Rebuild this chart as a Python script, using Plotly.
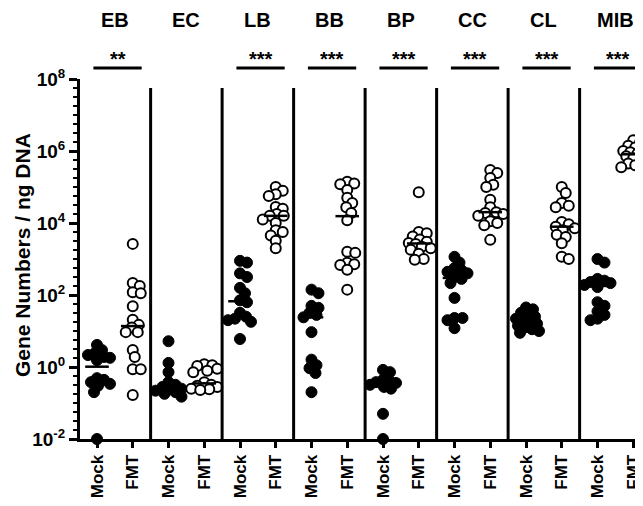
import numpy as np
import plotly.graph_objects as go

groups = ["EB", "EC", "LB", "BB", "BP", "CC", "CL", "MIB"]
conditions = ["Mock", "FMT"]
signif = ["**", "", "***", "***", "***", "***", "***", "***"]

mock_EB = [4.1, 2.95, 2.45, 2.15, 1.9, 1.8, 1.55, 0.49, 0.44, 0.38, 0.34, 0.30, 0.20, 0.01]
fmt_EB = [2630, 214, 178, 120, 112, 49, 20.4, 14.8, 12.6, 9.3, 9.3, 2.95, 1.9, 0.87, 0.87, 0.166]
mock_EC = [5.2, 1.3, 0.72, 0.38, 0.32, 0.28, 0.25, 0.24, 0.22, 0.20, 0.18, 0.15]
fmt_EC = [1.2, 1.12, 1.07, 0.89, 0.79, 0.72, 0.38, 0.32, 0.30, 0.28, 0.26, 0.25, 0.24, 0.23]
mock_LB = [890, 795, 400, 316, 158, 112, 71, 63, 32, 25, 22, 20, 18, 6.0]
fmt_LB = [100000, 79000, 63000, 56000, 28000, 25000, 17800, 15800, 15800, 12600, 10000, 6300, 5600, 4500, 3200, 2000]
mock_BB = [141, 112, 50, 44, 32, 28, 24, 9.3, 1.6, 1.12, 0.93, 0.68, 0.2]
fmt_BB = [141000, 126000, 120000, 83000, 50000, 36000, 27500, 19000, 12000, 1580, 1480, 790, 710, 680, 500, 141]
mock_BP = [0.83, 0.72, 0.44, 0.40, 0.38, 0.36, 0.32, 0.28, 0.25, 0.05, 0.01]
fmt_BP = [71000, 5600, 5200, 4200, 3500, 3000, 2800, 2600, 2200, 2000, 1800, 1400, 1000, 950]
mock_CC = [1150, 795, 560, 490, 440, 400, 316, 280, 214, 83, 23, 23, 20, 12]
fmt_CC = [295000, 245000, 178000, 115000, 100000, 44000, 27500, 20000, 19000, 17800, 15800, 11200, 10000, 8700, 3400]
mock_CL = [45, 40, 32, 28, 25, 22, 20, 18, 16, 14, 12.6, 11.2, 10, 8.9]
fmt_CL = [100000, 68000, 36000, 30000, 27500, 10700, 9300, 7900, 7200, 6300, 4700, 4100, 2750, 1150, 1000]
mock_MIB = [1000, 795, 280, 250, 230, 214, 190, 166, 63, 50, 35, 28, 22, 20]
fmt_MIB = [2000000, 1780000, 1410000, 1260000, 1120000, 1000000, 930000, 830000, 790000,
           710000, 630000, 560000, 450000, 400000, 360000, 355000]

mock_data = [mock_EB, mock_EC, mock_LB, mock_BB, mock_BP, mock_CC, mock_CL, mock_MIB]
fmt_data = [fmt_EB, fmt_EC, fmt_LB, fmt_BB, fmt_BP, fmt_CC, fmt_CL, fmt_MIB]

ytick_vals = [1e-2, 1, 1e2, 1e4, 1e6, 1e8]
ytick_text = ["10<sup>-2</sup>", "10<sup>0</sup>", "10<sup>2</sup>", "10<sup>4</sup>",
              "10<sup>6</sup>", "10<sup>8</sup>"]

# ---- layout geometry (page has an 8px body margin) ----
OFF = 8
W, H = 643 - OFF, 506 - OFF
ML, MR, MT = 80 - OFF, 0, 79 - OFF
MB = H - (439 - OFF)
PW, PH = W - ML - MR, H - MT - MB
PX_CAT = 35.75
X0 = -0.4755
X1 = X0 + PW / PX_CAT
PX_DEC = PH / 10.0
D = 11.5  # marker diameter in px
MAXOFF = 13.0

FONT = "Liberation Sans, Arial, sans-serif"


def swarm(vals):
    """Deterministic beeswarm offsets (category units)."""
    ys = np.log10(np.asarray(vals, float)) * PX_DEC
    order = np.argsort(-ys, kind="stable")
    placed = []
    offs = np.zeros(len(ys))
    cands = [0.0]
    n = 1
    while n <= MAXOFF:
        cands += [float(n), -float(n)]
        n += 1
    mind = D * 0.62
    for i in order:
        y = ys[i]
        best, bestd = None, -1.0
        for c in cands:
            dmin = min([np.hypot(c - px, y - py) for px, py in placed] or [1e9])
            if dmin >= mind:
                best = c
                break
            if dmin > bestd + 0.5:
                best, bestd = c, dmin
        placed.append((best, y))
        offs[i] = best
    return offs / PX_CAT


fig = go.Figure()
shapes = []
annotations = []
bold = dict(family=FONT, color="black", weight="bold")

for g, name in enumerate(groups):
    for k, (data, cond) in enumerate(((mock_data[g], "Mock"), (fmt_data[g], "FMT"))):
        pos = 2 * g + k
        xs = pos + swarm(data)
        if cond == "Mock":
            marker = dict(size=11, color="black", line=dict(color="black", width=1))
        else:
            marker = dict(size=10, color="white", line=dict(color="black", width=2))
        fig.add_trace(go.Scatter(x=xs, y=data, mode="markers", marker=marker,
                                 cliponaxis=False, showlegend=False, hoverinfo="y"))
        med = float(np.median(data))
        shapes.append(dict(type="line", xref="x", yref="y", x0=pos - 0.33, x1=pos + 0.33,
                           y0=med, y1=med, line=dict(color="black", width=2.5)))
    annotations.append(dict(text=name, xref="x", yref="paper", x=2 * g + 0.5,
                            y=1 + (MT - (20 - OFF)) / PH, showarrow=False, yanchor="middle",
                            font=dict(size=20, **bold)))
    if signif[g]:
        xa, xb = 2 * g - 0.1, 2 * g + 1.25
        yl = 1 + (MT - (68 - OFF)) / PH
        shapes.append(dict(type="line", xref="x", yref="paper", x0=xa, x1=xb,
                           y0=yl, y1=yl, line=dict(color="black", width=3)))
        annotations.append(dict(text=signif[g], xref="x", yref="paper", x=(xa + xb) / 2,
                                y=1 + (MT - (59 - OFF)) / PH, showarrow=False,
                                yanchor="middle", font=dict(size=20, **bold)))
    if g > 0:
        shapes.append(dict(type="line", xref="x", yref="y", x0=2 * g - 0.5, x1=2 * g - 0.5,
                           y0=1e-2, y1=10 ** 7.75, line=dict(color="black", width=3)))

annotations.append(dict(text="Gene Numbers / ng DNA", xref="paper", yref="paper",
                        x=(22 - OFF - ML) / PW, y=1 - (255 - OFF - MT) / PH, textangle=-90,
                        showarrow=False, xanchor="center", yanchor="middle",
                        font=dict(size=21, **bold)))

minor_vals = [10 ** (k / 4) for k in range(-8, 33) if k % 8 != 0]

fig.update_layout(
    width=W, height=H, margin=dict(l=ML, r=MR, t=MT, b=MB, autoexpand=False),
    plot_bgcolor="white", paper_bgcolor="white",
    shapes=shapes, annotations=annotations,
    xaxis=dict(range=[X0, X1], tickmode="array", tickvals=list(range(16)),
               ticktext=conditions * 8, tickangle=-90, showgrid=False, zeroline=False,
               showline=True, linecolor="black", linewidth=3, ticks="outside",
               ticklen=6, tickwidth=2.5, tickcolor="black", automargin=False,
               tickfont=dict(size=17, **bold)),
    yaxis=dict(type="log", range=[-2, 8], tickmode="array", tickvals=ytick_vals,
               ticktext=ytick_text, showgrid=False, zeroline=False, showline=True,
               linecolor="black", linewidth=3, ticks="outside", ticklen=8, tickwidth=2.5,
               tickcolor="black", automargin=False,
               tickfont=dict(size=19, **bold),
               minor=dict(tickmode="array", tickvals=minor_vals, ticks="outside",
                          ticklen=4, tickwidth=2, tickcolor="black", showgrid=False)),
)

fig.write_html("out.html")
